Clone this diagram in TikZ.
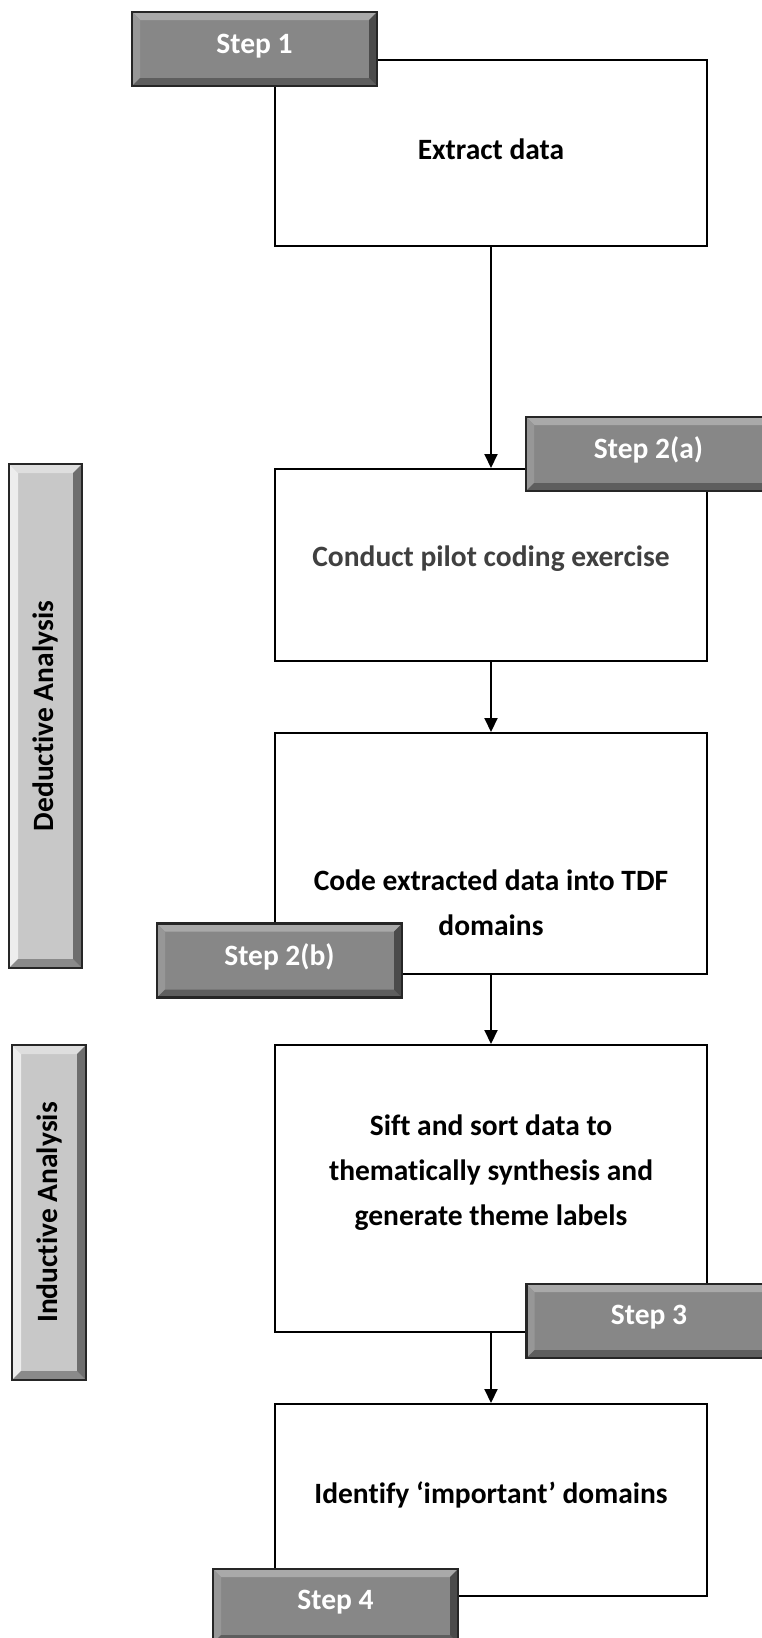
\documentclass[tikz,border=0pt]{standalone}
\usepackage{fontspec}
\setmainfont{Carlito}[Ligatures=NoCommon]
\usetikzlibrary{arrows.meta}
\definecolor{stepmid}{HTML}{878787}
\definecolor{steplight}{HTML}{A9A9A9}
\definecolor{stepside}{HTML}{979797}
\definecolor{stepdark}{HTML}{5E5E5E}
\definecolor{barmid}{HTML}{C8C8C8}
\definecolor{barlight}{HTML}{EDEDED}
\definecolor{bardark}{HTML}{8A8A8A}
\definecolor{greytext}{HTML}{404040}
\tikzset{
  txt/.style={font=\bfseries\fontsize{29.5}{45}\selectfont, align=center},
  mainbox/.style={draw=black, line width=2pt, fill=white, minimum width=432pt},
  arrow/.style={draw=black, line width=2pt, -{Triangle[width=13pt,length=14pt]}},
  bevelled/.style n args={4}{path picture={
      \fill[#1] (path picture bounding box.north west) -- (path picture bounding box.north east)
        -- ([shift={(-#4,-#4)}]path picture bounding box.north east) -- ([shift={(#4,-#4)}]path picture bounding box.north west) -- cycle;
      \fill[#2] (path picture bounding box.north west) -- (path picture bounding box.south west)
        -- ([shift={(#4,#4)}]path picture bounding box.south west) -- ([shift={(#4,-#4)}]path picture bounding box.north west) -- cycle;
      \fill[#3] (path picture bounding box.south west) -- (path picture bounding box.south east)
        -- ([shift={(-#4,#4)}]path picture bounding box.south east) -- ([shift={(#4,#4)}]path picture bounding box.south west) -- cycle;
      \fill[#3!80!black] (path picture bounding box.north east) -- (path picture bounding box.south east)
        -- ([shift={(-#4,#4)}]path picture bounding box.south east) -- ([shift={(-#4,-#4)}]path picture bounding box.north east) -- cycle;
  }},
  stepbox/.style={draw=black!85, line width=2.5pt, fill=stepmid, minimum width=245pt, minimum height=74pt,
    text=white, font=\bfseries\fontsize{29.5}{34}\selectfont, bevelled={steplight}{stepside}{stepdark}{8pt}},
  steptxt/.style={text=white, font=\bfseries\fontsize{29.5}{34}\selectfont},
  sidebar/.style={draw=black!85, line width=2.5pt, fill=barmid, bevelled={barlight!60!barmid}{barlight}{bardark}{9pt}},
}
\begin{document}
\begin{tikzpicture}[x=1pt,y=-1pt]
\clip (0,0) rectangle (762,1638);
\fill[white] (0,0) rectangle (762,1638);

% main boxes
\node[mainbox, minimum height=186pt] (b1) at (491,153) {};
\node[mainbox, minimum height=192pt] (b2) at (491,565) {};
\node[mainbox, minimum height=241pt] (b3) at (491,853.5) {};
\node[mainbox, minimum height=287pt] (b4) at (491,1188.5) {};
\node[mainbox, minimum height=192pt] (b5) at (491,1500) {};

% texts
\node[txt] (t1) at (491,149) {Extract data};
\node[txt, text=greytext] (t2) at (491,559) {Conduct pilot coding exercise};
\node[txt] (t3) at (491,903) {Code extracted data into TDF\\domains};
\node[txt] (t4) at (491,1173) {Sift and sort data to\\thematically synthesis and\\generate theme labels};
\node[txt] (t5) at (491,1495) {Identify `important' domains};

% arrows
\draw[arrow] (b1.south) -- (b2.north);
\draw[arrow] (b2.south) -- (b3.north);
\draw[arrow] (b3.south) -- (b4.north);
\draw[arrow] (b4.south) -- (b5.north);

% step labels
\node[stepbox] (s1) at (254.5,49) {};
\node[steptxt] (s1t) at (254.5,46) {Step 1};
\node[stepbox] (s2a) at (648.5,454) {};
\node[steptxt] (s2at) at (648.5,450) {Step 2(a)};
\node[stepbox] (s2b) at (279.5,960.5) {};
\node[steptxt] (s2bt) at (279.5,957) {Step 2(b)};
\node[stepbox] (s3) at (649,1321) {};
\node[steptxt] (s3t) at (649,1317) {Step 3};
\node[stepbox] (s4) at (335.5,1606) {};
\node[steptxt] (s4t) at (335.5,1602) {Step 4};

% side bars
\node[sidebar, minimum width=73pt, minimum height=504pt] (d) at (45.5,716) {};
\node[txt, rotate=90] (dt) at (d.center) {Deductive Analysis};
\node[sidebar, minimum width=74pt, minimum height=335pt] (i) at (49,1212.5) {};
\node[txt, rotate=90] (it) at (i.center) {Inductive Analysis};
\end{tikzpicture}
\end{document}
